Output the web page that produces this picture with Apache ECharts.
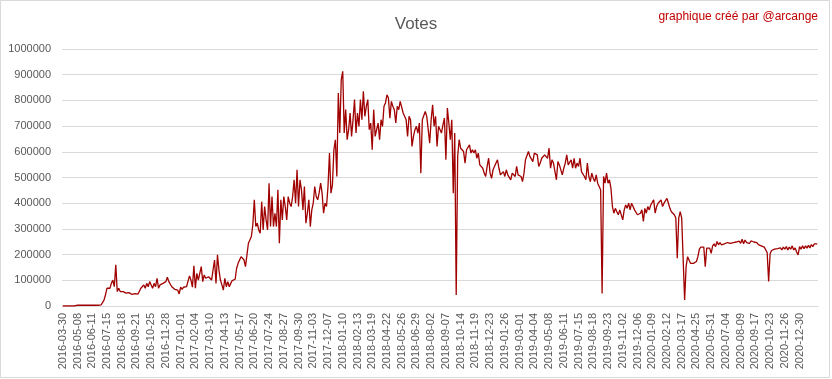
<!DOCTYPE html>
<html>
<head>
<meta charset="utf-8">
<script src="https://cdn.jsdelivr.net/npm/echarts@6/dist/echarts.min.js"></script>
<style>
html,body{margin:0;padding:0;background:#fff;}
#chart{width:832px;height:379px;}
</style>
</head>
<body>
<div id="chart"></div>
<script>
// Tick labels shown on the category axis (one every 10 samples)
const tickLabels = [
 "2016-03-30","2016-05-08","2016-06-11","2016-07-15","2016-08-18","2016-09-21","2016-10-25","2016-11-28",
 "2017-01-01","2017-02-04","2017-03-10","2017-04-13","2017-05-17","2017-06-20","2017-07-24","2017-08-27","2017-09-30","2017-11-03","2017-12-07",
 "2018-01-10","2018-02-13","2018-03-19","2018-04-22","2018-05-26","2018-06-29","2018-08-02","2018-09-07","2018-10-14","2018-11-19","2018-12-23",
 "2019-01-26","2019-03-01","2019-04-04","2019-05-08","2019-06-11","2019-07-15","2019-08-18","2019-09-23","2019-11-02","2019-12-06",
 "2020-01-09","2020-02-12","2020-03-17","2020-04-25","2020-05-31","2020-07-04","2020-08-09","2020-09-17","2020-10-23","2020-11-26","2020-12-30"
];

const votesK = [
 0,0,0,0,0,0,0,0,0,3,
 3,3,3,3,3,3,3,3,3,3,
 3,3,3,3,3,3,4,10,23,43,
 69,75,69,88,101,75,160,56,69,56,
 60,56,52,50,47,52,49,45,52,48,
 50,46,52,69,75,82,69,88,75,95,
 82,69,88,75,108,69,82,75,88,82,
 95,112,95,88,75,75,65,69,62,47,
 73,65,73,69,75,82,117,101,73,156,
 69,127,101,101,153,95,121,108,112,114,
 112,101,140,179,88,199,140,101,82,62,
 108,75,95,75,88,99,101,104,147,166,
 179,192,199,179,153,199,244,257,270,316,
 413,309,322,296,283,406,296,387,335,296,
 478,309,426,309,361,309,452,244,413,335,
 426,387,335,426,400,387,426,491,400,530,
 387,491,452,374,465,322,361,413,309,374,
 400,465,426,413,440,478,439,361,400,387,
 465,595,439,470,608,647,504,829,673,881,
 913,673,764,647,686,751,660,725,803,673,
 751,699,803,725,835,738,777,803,686,712,
 608,764,660,686,712,647,725,699,777,790,
 822,809,731,796,777,764,712,777,764,796,
 796,751,738,725,660,738,725,621,660,686,
 699,673,712,517,725,725,757,738,738,634,
 725,783,699,738,621,699,692,673,705,731,
 569,770,712,647,725,439,673,43,582,647,
 614,621,601,556,608,614,627,595,608,595,
 608,575,595,549,556,536,517,504,543,575,
 517,497,530,536,556,569,536,510,504,523,
 504,530,510,504,491,517,523,504,543,510,
 517,504,484,517,569,575,601,582,588,562,
 595,601,588,543,556,575,569,588,582,575,
 614,536,569,556,549,491,562,549,543,510,
 536,556,588,549,543,569,536,575,536,556,
 543,575,523,517,504,491,556,504,484,517,
 497,484,510,478,465,452,49,504,478,517,
 478,491,458,387,361,380,367,355,374,367,
 335,374,393,380,400,374,400,387,374,367,
 355,348,361,374,329,380,361,387,374,393,
 400,413,361,387,400,393,413,387,400,406,
 419,400,380,367,361,355,342,186,342,367,
 342,348,23,153,192,179,166,164,166,169,
 173,192,221,229,225,229,153,225,218,225,
 205,234,242,231,251,238,247,238,244,242,
 238,247,242,244,238,247,242,249,242,252,
 244,260,242,257,247,252,244,253,247,249,
 242,247,239,244,234,239,229,225,208,95,
 203,216,210,221,216,223,216,226,218,229,
 221,231,218,229,221,234,218,226,210,199,
 231,221,234,223,234,225,236,226,239,231,
 242,247,242
];

const yTicks = { min: 0, max: 1000000, step: 100000 };

const categories = votesK.map((v, i) => (i % 10 === 0 ? (tickLabels[i / 10] || "") : ""));
const votes = votesK.map(v => v * 1000);

const chart = echarts.init(document.getElementById('chart'), null, { renderer: 'canvas' });
const font = '"Liberation Sans", Arial, sans-serif';
chart.setOption({
  animation: false,
  backgroundColor: '#ffffff',
  title: [{
    text: 'Votes',
    left: 'center',
    top: 11,
    textStyle: { fontFamily: font, fontSize: 17, fontWeight: 'normal', color: '#595959' }
  }, {
    text: 'graphique créé par @arcange',
    right: 9,
    top: 6,
    textStyle: { fontFamily: font, fontSize: 12, fontWeight: 'normal', color: '#C00000' }
  }],
  graphic: [{
    type: 'rect',
    shape: { x: 0.5, y: 0.5, width: 829, height: 377 },
    style: { fill: 'none', stroke: '#d9d9d9', lineWidth: 1 },
    silent: true
  }],
  grid: { left: 62, right: 14, top: 49, bottom: 73, containLabel: false },
  xAxis: {
    type: 'category',
    data: categories,
    boundaryGap: true,
    axisTick: { show: false },
    axisLine: { show: true, lineStyle: { color: '#d9d9d9', width: 1 } },
    axisLabel: {
      interval: 9,
      rotate: 90,
      margin: 7,
      fontFamily: font,
      fontSize: 11,
      color: '#595959'
    },
    splitLine: { show: false }
  },
  yAxis: {
    type: 'value',
    min: yTicks.min,
    max: yTicks.max,
    interval: yTicks.step,
    axisLine: { show: false },
    axisTick: { show: false },
    axisLabel: {
      margin: 11, fontFamily: font, fontSize: 11, color: '#595959',
      formatter: v => String(Math.round(v))
    },
    splitLine: { show: true, lineStyle: { color: '#d9d9d9', width: 1 } }
  },
  series: [{
    type: 'line',
    data: votes,
    showSymbol: false,
    symbol: 'none',
    lineStyle: { color: '#A00000', width: 1.3 },
    itemStyle: { color: '#A00000' }
  }]
});
</script>
</body>
</html>
